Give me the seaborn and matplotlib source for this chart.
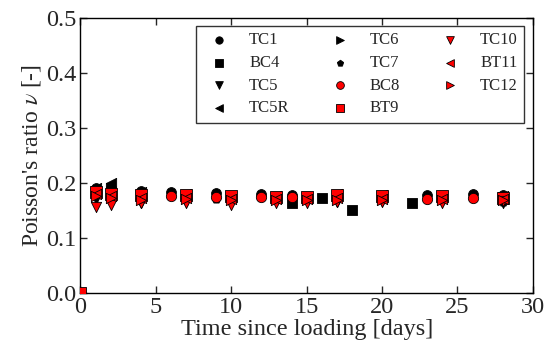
import matplotlib
matplotlib.use("Agg")
import matplotlib.pyplot as plt
import seaborn as sns

# ---- data ----
days_b = [1, 2, 4, 6, 9, 12, 14, 23, 26, 28]
days_a = [1, 2, 4, 7, 10, 13, 15, 17, 20, 24, 28]
days_bc4 = [14, 16, 18, 22]
days_bc8 = [6, 9, 12, 14, 23, 26]
days_bt9 = [0] + days_a

tc1 = [0.190, 0.190, 0.185, 0.183, 0.181, 0.179, 0.178, 0.178, 0.179, 0.177]
bc4 = [0.162, 0.172, 0.150, 0.163]
tc5 = [0.170, 0.168, 0.162, 0.165, 0.166, 0.167, 0.168, 0.165, 0.166, 0.167, 0.163]
tc5r = [0.190, 0.200, 0.182, 0.180, 0.175, 0.175, 0.172, 0.180, 0.178, 0.176, 0.176]
tc6 = [0.185, 0.190, 0.178, 0.176, 0.174, 0.172, 0.172, 0.176, 0.174, 0.173, 0.174]
tc7 = [0.185, 0.192, 0.180, 0.178, 0.170, 0.176, 0.165, 0.176, 0.175, 0.165]
bc8 = [0.175, 0.174, 0.173, 0.173, 0.170, 0.172]
bt9 = [0.0, 0.183, 0.180, 0.178, 0.177, 0.175, 0.174, 0.173, 0.178, 0.175, 0.175, 0.172]
tc10 = [0.155, 0.160, 0.163, 0.162, 0.160, 0.163, 0.163, 0.165, 0.164, 0.163, 0.166]
bt11 = [0.180, 0.176, 0.172, 0.172, 0.170, 0.170, 0.170, 0.172, 0.170, 0.170, 0.170]
tc12 = [0.176, 0.172, 0.168, 0.170, 0.168, 0.168, 0.168, 0.168, 0.168, 0.168, 0.168]

sns.set_style("ticks")
plt.rcParams['font.family'] = ['Liberation Serif', 'DejaVu Serif']
plt.rcParams['mathtext.fontset'] = 'stix'

fig = plt.figure(figsize=(5.51, 3.5), dpi=100)
ax = fig.add_axes([0.146, 0.164, 0.821, 0.786])

series = [
    ("TC1", days_b, tc1, "o", "black", 50),
    ("BC4", days_bc4, bc4, "s", "black", 60),
    ("TC5", days_a, tc5, "v", "black", 55),
    ("TC5R", days_a, tc5r, "<", "black", 55),
    ("TC6", days_a, tc6, ">", "black", 55),
    ("TC7", days_b, tc7, "p", "black", 40),
    ("BC8", days_bc8, bc8, "o", "red", 55),
    ("BT9", days_bt9, bt9, "s", "red", 65),
    ("TC10", days_a, tc10, "v", "red", 55),
    ("BT11", days_a, bt11, "<", "red", 55),
    ("TC12", days_a, tc12, ">", "red", 55),
]
for name, xs, ys, m, c, s in series:
    sns.scatterplot(x=xs, y=ys, marker=m, color=c, s=s, edgecolor="black",
                    linewidth=0.6, label=name, ax=ax, zorder=3)

ax.set_xlim(0, 30)
ax.set_ylim(0, 0.5)
ax.set_xticks([0, 5, 10, 15, 20, 25, 30])
ax.set_yticks([0.0, 0.1, 0.2, 0.3, 0.4, 0.5])
ax.set_yticklabels(["0.0", "0.1", "0.2", "0.3", "0.4", "0.5"])
ax.tick_params(direction="in", top=True, right=True, labelsize=17.5, length=5,
               width=1, pad=3)
for sp in ax.spines.values():
    sp.set_linewidth(1.0)
    sp.set_color("black")
ax.set_xlabel("Time since loading [days]", fontsize=17.5, labelpad=1)
ax.set_ylabel(r"Poisson's ratio $\nu$ [-]", fontsize=17, labelpad=2)

leg = ax.legend(ncol=3, loc="upper right", fontsize=12, frameon=True,
                fancybox=False, edgecolor="black", markerscale=0.75,
                labelspacing=0.4)
leg.get_frame().set_linewidth(1.0)

fig.savefig("out.png", dpi=100)
